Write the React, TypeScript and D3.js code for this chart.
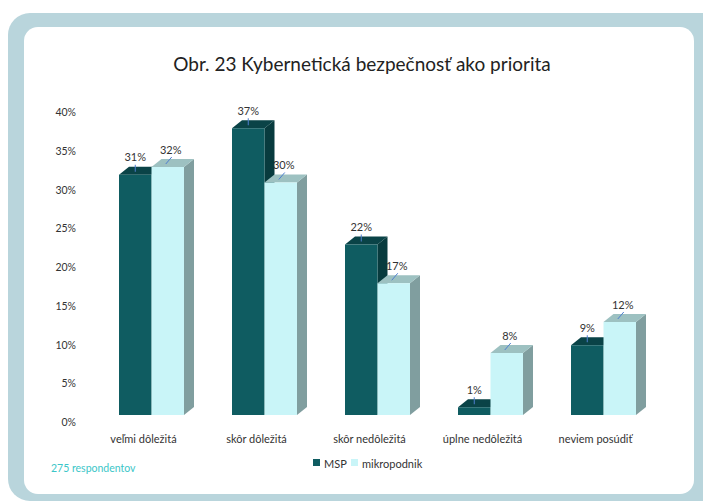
import React from "react";
import * as d3 from "d3";

const categories = ["veľmi dôležitá", "skôr dôležitá", "skôr nedôležitá", "úplne nedôležitá", "neviem posúdiť"];
const seriesNames = ["MSP", "mikropodnik"];
const mspValues = [31, 37, 22, 1, 9];
const mikroValues = [32, 30, 17, 8, 12];
const yTicks = [0, 5, 10, 15, 20, 25, 30, 35, 40];
const title = "Obr. 23 Kybernetická bezpečnosť ako priorita";
const note = "275 respondentov";

const W = 703;
const H = 502;
const FONT = "Lato, 'Open Sans', sans-serif";

const palette = [
  { front: "#0f5c61", top: "#0a4347", side: "#083b3e" },
  { front: "#c9f5f8", top: "#9dc1c1", side: "#809e9f" },
];

export default function App() {
  const x0 = d3.scaleBand<string>().domain(categories).range([95, 660]).padding(0);
  const groupW = 65;
  const x1 = d3.scaleBand<string>().domain(seriesNames).range([0, groupW]).padding(0);
  const y = d3.scaleLinear().domain([0, 40]).range([415, 105]);
  const dx = 10;
  const dy = 8;
  const base = y(0);

  const series = [mspValues, mikroValues];

  const bars: React.ReactNode[] = [];
  const labels: React.ReactNode[] = [];
  categories.forEach((c, ci) => {
    const gx = (x0(c) ?? 0) + (x0.bandwidth() - groupW) / 2;
    series.forEach((vals, si) => {
      const v = vals[ci];
      const bx = gx + (x1(seriesNames[si]) ?? 0);
      const w = x1.bandwidth();
      const yt = y(v);
      const col = palette[si];
      const topPts = [[bx, yt], [bx + dx, yt - dy], [bx + w + dx, yt - dy], [bx + w, yt]];
      const sidePts = [[bx + w, yt], [bx + w + dx, yt - dy], [bx + w + dx, base - dy], [bx + w, base]];
      bars.push(
        <g key={`b${ci}-${si}`}>
          <polygon points={sidePts.map((p) => p.join(",")).join(" ")} fill={col.side} />
          <polygon points={topPts.map((p) => p.join(",")).join(" ")} fill={col.top} />
          <rect x={bx} y={yt} width={w} height={base - yt} fill={col.front} />
        </g>
      );
      const lx = bx + w / 2 + (si === 0 ? 0 : 3);
      const ly = yt - 18;
      const lineEndX = si === 0 ? lx : lx - 5;
      labels.push(
        <g key={`l${ci}-${si}`}>
          <line x1={si === 0 ? lx : lx + 1} y1={ly + 8} x2={lineEndX} y2={yt - 3} stroke="#4f7fcf" strokeWidth={1} />
          <text x={lx} y={ly} textAnchor="middle" dominantBaseline="central" fontSize={11} fill="#333" fontFamily={FONT}>
            {`${v}%`}
          </text>
        </g>
      );
    });
  });

  return (
    <svg width={W} height={H} style={{ position: "absolute", left: 0, top: 0 }}>
      <rect x={0} y={0} width={W} height={H} fill="#ffffff" />
      <rect x={8} y={13} width={W - 8 + 20} height={488} rx={22} fill="#b9d5dc" />
      <rect x={24} y={27} width={670} height={467} rx={14} fill="#ffffff" />
      <text x={362} y={63} textAnchor="middle" dominantBaseline="central" fontSize={19} fill="#222" fontFamily={FONT}>
        {title}
      </text>
      {yTicks.map((t) => (
        <text key={t} x={76} y={y(t) + 7} textAnchor="end" dominantBaseline="central" fontSize={10.5} fill="#333" fontFamily={FONT}>
          {`${t}%`}
        </text>
      ))}
      {bars}
      {labels}
      {categories.map((c) => (
        <text key={c} x={(x0(c) ?? 0) + x0.bandwidth() / 2 - 8} y={438} textAnchor="middle" dominantBaseline="central" fontSize={11} fill="#333" fontFamily={FONT}>
          {c}
        </text>
      ))}
      <g fontFamily={FONT} fontSize={11} fill="#333">
        <rect x={313} y={459} width={7} height={7} fill={palette[0].front} />
        <text x={324} y={463} dominantBaseline="central">{seriesNames[0]}</text>
        <rect x={351} y={459} width={7} height={7} fill={palette[1].front} />
        <text x={362} y={463} dominantBaseline="central">{seriesNames[1]}</text>
      </g>
      <text x={51} y={468} dominantBaseline="central" fontSize={10.5} fill="#3cc6c8" fontFamily={FONT}>
        {note}
      </text>
    </svg>
  );
}
